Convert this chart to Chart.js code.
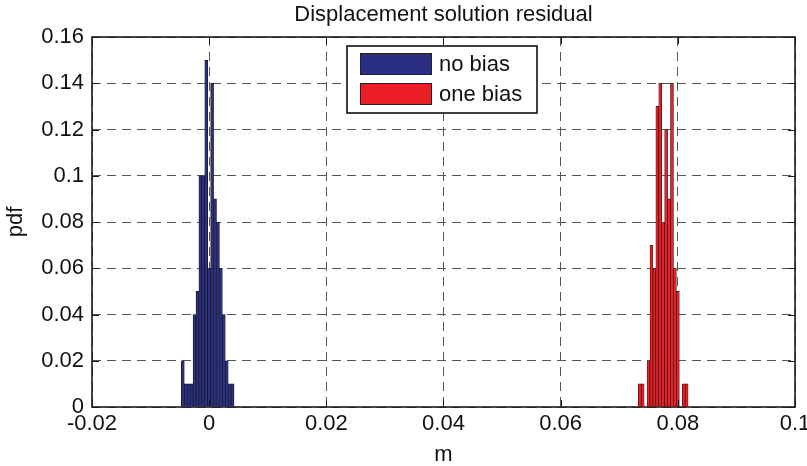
<!DOCTYPE html>
<html><head><meta charset="utf-8">
<script src="https://cdn.jsdelivr.net/npm/chart.js@4/dist/chart.umd.min.js"></script>
<style>html,body{margin:0;padding:0;background:#fff;overflow:hidden}#wrap{width:807px;height:466px;position:relative}</style>
</head><body><div id="wrap"><canvas id="c" width="807" height="466"></canvas></div>
<script>
const chartTitle = 'Displacement solution residual';
const xAxisTitle = 'm';
const yAxisTitle = 'pdf';
const seriesNames = ['no bias', 'one bias'];
const noBiasBins = [-0.0045, -0.004, -0.0035, -0.003, -0.0025, -0.002, -0.0015, -0.001, -0.0005, 0, 0.0005, 0.001, 0.0015, 0.002, 0.0025, 0.003, 0.0035, 0.004];
const noBiasPdf = [0.02, 0.01, 0.01, 0.01, 0.04, 0.05, 0.10, 0.10, 0.15, 0.06, 0.14, 0.09, 0.08, 0.06, 0.04, 0.02, 0.01, 0.01];
const oneBiasBins = [0.0735, 0.074, 0.0745, 0.075, 0.0755, 0.076, 0.0765, 0.077, 0.0775, 0.078, 0.0785, 0.079, 0.0795, 0.08, 0.0805, 0.081, 0.0815];
const oneBiasPdf = [0.01, 0.01, 0, 0.02, 0.07, 0.06, 0.13, 0.14, 0.08, 0.12, 0.09, 0.14, 0.06, 0.05, 0, 0.01, 0.01];
const xTickValues = [-0.02, 0, 0.02, 0.04, 0.06, 0.08, 0.1];
const xTickLabels = ['-0.02', '0', '0.02', '0.04', '0.06', '0.08', '0.1'];
const yTickValues = [0, 0.02, 0.04, 0.06, 0.08, 0.1, 0.12, 0.14, 0.16];
const yTickLabels = ['0', '0.02', '0.04', '0.06', '0.08', '0.1', '0.12', '0.14', '0.16'];

const FONT = "'Liberation Sans', Arial, Helvetica, sans-serif";
const TXT = '#111';
const colors = ['#2b2f84', '#ec1f26'];

const framePlugin = {
  id: 'frameLegend',
  afterDatasetsDraw(chart) {
    const {ctx, chartArea: a, scales: {x, y}} = chart;
    ctx.save();
    ctx.strokeStyle = '#1a1a1a';
    ctx.lineWidth = 1;
    const tl = 7;
    x.ticks.forEach(t => {
      const px = Math.round(x.getPixelForValue(t.value)) + 0.5;
      ctx.beginPath();
      ctx.moveTo(px, a.bottom); ctx.lineTo(px, a.bottom - tl);
      ctx.moveTo(px, a.top); ctx.lineTo(px, a.top + tl);
      ctx.stroke();
    });
    y.ticks.forEach(t => {
      const py = Math.round(y.getPixelForValue(t.value)) + 0.5;
      ctx.beginPath();
      ctx.moveTo(a.left, py); ctx.lineTo(a.left + tl, py);
      ctx.moveTo(a.right, py); ctx.lineTo(a.right - tl, py);
      ctx.stroke();
    });
    ctx.lineWidth = 1.6;
    ctx.strokeRect(a.left, a.top, a.right - a.left, a.bottom - a.top);
    // title centred over the plot area
    ctx.fillStyle = TXT;
    ctx.font = '22px ' + FONT;
    ctx.textAlign = 'center';
    ctx.textBaseline = 'middle';
    ctx.fillText(chartTitle, (a.left + a.right) / 2, a.top - 22);
    // legend
    const lx = a.left + 255, ly = a.top + 9, lw = 190, lh = 67;
    ctx.fillStyle = '#fff';
    ctx.fillRect(lx, ly, lw, lh);
    ctx.lineWidth = 1.6;
    ctx.strokeStyle = '#111';
    ctx.strokeRect(lx, ly, lw, lh);
    ctx.textAlign = 'left';
    chart.data.datasets.forEach((ds, i) => {
      const sy = ly + 7 + i * 30;
      ctx.fillStyle = ds.backgroundColor;
      ctx.fillRect(lx + 13, sy, 72, 22);
      ctx.lineWidth = 1;
      ctx.strokeStyle = '#222';
      ctx.strokeRect(lx + 13.5, sy + 0.5, 71, 21);
      ctx.fillStyle = TXT;
      ctx.fillText(ds.label, lx + 92, sy + 12);
    });
    ctx.restore();
  }
};

new Chart(document.getElementById('c'), {
  type: 'bar',
  data: {
    datasets: [
      {label: seriesNames[0], data: noBiasBins.map((b, i) => ({x: b, y: noBiasPdf[i]})), backgroundColor: colors[0], borderColor: '#161616', borderWidth: 0.7},
      {label: seriesNames[1], data: oneBiasBins.map((b, i) => ({x: b, y: oneBiasPdf[i]})), backgroundColor: colors[1], borderColor: '#2a1010', borderWidth: 0.7}
    ]
  },
  options: {
    responsive: false,
    animation: false,
    devicePixelRatio: 1,
    grouped: false,
    barPercentage: 1,
    categoryPercentage: 1,
    layout: {padding: {top: 37, right: 12, bottom: 0, left: 0}},
    plugins: {
      legend: {display: false},
      tooltip: {enabled: false},
      title: {display: false}
    },
    scales: {
      x: {
        type: 'linear', min: -0.02, max: 0.1, offset: false,
        afterBuildTicks: s => { s.ticks = xTickValues.map(v => ({value: v})); },
        afterFit: s => { s.height = 59; s.paddingLeft = 0; s.paddingRight = 0; },
        ticks: {callback: (v, i) => xTickLabels[i], autoSkip: false, maxRotation: 0, color: TXT, font: {family: FONT, size: 22}, padding: 4},
        grid: {color: '#555', lineWidth: 1, drawTicks: false, offset: false},
        border: {display: false, dash: [9, 6]},
        title: {display: true, text: xAxisTitle, color: TXT, font: {family: FONT, size: 22, lineHeight: 1}, padding: {top: 0, bottom: 0}}
      },
      y: {
        type: 'linear', min: 0, max: 0.16,
        afterBuildTicks: s => { s.ticks = yTickValues.map(v => ({value: v})); },
        afterFit: s => { s.width = 92; s.paddingTop = 0; s.paddingBottom = 0; },
        ticks: {callback: (v, i) => yTickLabels[i], autoSkip: false, color: TXT, font: {family: FONT, size: 22}, padding: 8},
        grid: {color: '#555', lineWidth: 1, drawTicks: false},
        border: {display: false, dash: [9, 6]},
        title: {display: true, text: yAxisTitle, color: TXT, font: {family: FONT, size: 22, lineHeight: 1}, padding: {top: 5, bottom: 0}}
      }
    }
  },
  plugins: [framePlugin]
});
</script>
</body></html>
